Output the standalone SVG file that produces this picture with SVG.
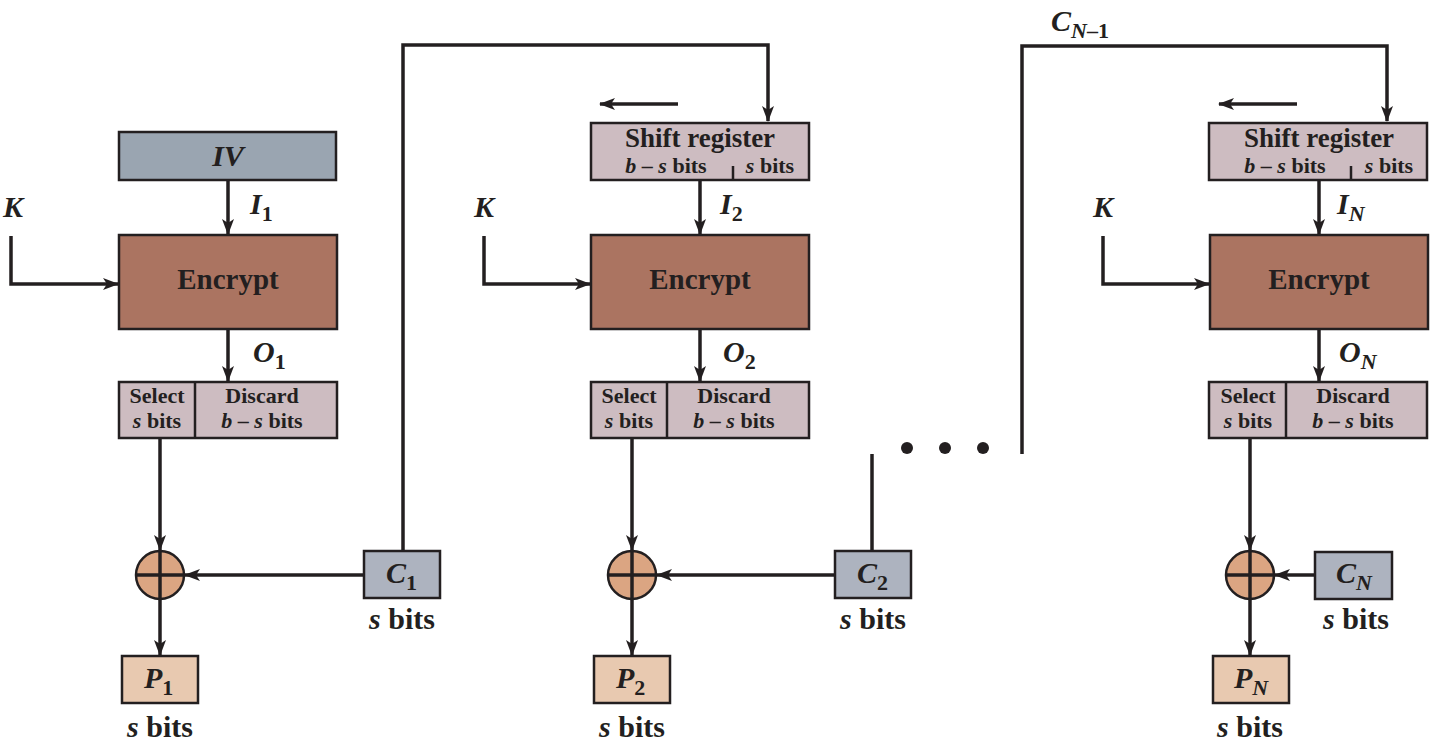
<svg xmlns="http://www.w3.org/2000/svg" width="1438" height="745" viewBox="0 0 1438 745">
<style>
.bx{stroke:#231f20;stroke-width:2.5}
.iv{fill:#9aa5b1}
.en{fill:#ab7461}
.sr{fill:#cdbcc1}
.cb{fill:#adb3bf}
.pb{fill:#e8c9b0}
.xr{fill:#dba582;stroke:#231f20;stroke-width:2.5}
.xl{stroke:#231f20;stroke-width:3.5}
.ln{fill:none;stroke:#231f20;stroke-width:3.5}
.t{font-family:"Liberation Serif","Times New Roman",serif;font-weight:bold;fill:#231f20}
.i{font-style:italic}
.m{text-anchor:middle}
.sd{font-size:22px}
</style>
<defs>
<marker id="ah" viewBox="0 0 16 12" refX="15" refY="6" markerWidth="16" markerHeight="12" orient="auto" markerUnits="userSpaceOnUse">
<path d="M0,0 L16,6 L0,12 L4,6 z" fill="#231f20"/>
</marker>
</defs>

<g id="connectors">
<!-- column 1 -->
<line class="ln" x1="228" y1="181" x2="228" y2="234" marker-end="url(#ah)"/>
<polyline class="ln" points="11,236 11,284 118,284" marker-end="url(#ah)"/>
<line class="ln" x1="228" y1="330" x2="228" y2="381" marker-end="url(#ah)"/>
<line class="ln" x1="160" y1="439" x2="160" y2="550" marker-end="url(#ah)"/>
<line class="ln" x1="160" y1="599" x2="160" y2="655" marker-end="url(#ah)"/>
<line class="ln" x1="364" y1="575" x2="185" y2="575" marker-end="url(#ah)"/>
<polyline class="ln" points="403,551 403,45 768,45 768,121" marker-end="url(#ah)"/>
<!-- column 2 -->
<line class="ln" x1="678" y1="104" x2="600" y2="104" marker-end="url(#ah)"/>
<line class="ln" x1="700" y1="181" x2="700" y2="234" marker-end="url(#ah)"/>
<polyline class="ln" points="484,236 484,284 590,284" marker-end="url(#ah)"/>
<line class="ln" x1="700" y1="330" x2="700" y2="381" marker-end="url(#ah)"/>
<line class="ln" x1="632" y1="439" x2="632" y2="550" marker-end="url(#ah)"/>
<line class="ln" x1="632" y1="599" x2="632" y2="655" marker-end="url(#ah)"/>
<line class="ln" x1="835" y1="575" x2="657" y2="575" marker-end="url(#ah)"/>
<line class="ln" x1="872" y1="551" x2="872" y2="454"/>
<polyline class="ln" points="1022,454 1022,46 1387,46 1387,121" marker-end="url(#ah)"/>
<!-- column 3 -->
<line class="ln" x1="1297" y1="104" x2="1219" y2="104" marker-end="url(#ah)"/>
<line class="ln" x1="1319" y1="181" x2="1319" y2="234" marker-end="url(#ah)"/>
<polyline class="ln" points="1103,236 1103,284 1209,284" marker-end="url(#ah)"/>
<line class="ln" x1="1319" y1="330" x2="1319" y2="381" marker-end="url(#ah)"/>
<line class="ln" x1="1250" y1="439" x2="1250" y2="550" marker-end="url(#ah)"/>
<line class="ln" x1="1250" y1="599" x2="1250" y2="655" marker-end="url(#ah)"/>
<line class="ln" x1="1315" y1="575" x2="1275" y2="575" marker-end="url(#ah)"/>
</g>

<g id="dots" fill="#231f20">
<circle cx="907" cy="448" r="6"/>
<circle cx="945" cy="448" r="6"/>
<circle cx="983" cy="448" r="6"/>
</g>

<!-- Column 1 -->
<g id="iv">
<rect class="bx iv" x="119" y="132" width="217" height="48"/>
<text class="t i m" x="228" y="166" font-size="30">IV</text>
</g>
<g id="k1"><text class="t i" x="3" y="217" font-size="30">K</text></g>
<g id="i1lbl"><text class="t" x="250" y="214" font-size="30"><tspan class="i">I</tspan><tspan font-size="22" dy="7">1</tspan></text></g>
<g id="encrypt1">
<rect class="bx en" x="119" y="235" width="218" height="94"/>
<text class="t m" x="228" y="289" font-size="29">Encrypt</text>
</g>
<g id="o1lbl"><text class="t" x="253" y="362" font-size="30"><tspan class="i">O</tspan><tspan font-size="22" dy="7">1</tspan></text></g>
<g id="select1">
<rect class="bx sr" x="119" y="382" width="218" height="56"/>
<line class="bx" x1="195" y1="382" x2="195" y2="438"/>
<text class="t m sd" x="157" y="403">Select</text>
<text class="t m sd" x="157" y="428"><tspan class="i">s</tspan> bits</text>
<text class="t m sd" x="262" y="403">Discard</text>
<text class="t m sd" x="262" y="428"><tspan class="i">b</tspan> – <tspan class="i">s</tspan> bits</text>
</g>
<g id="xor1">
<circle class="xr" cx="160" cy="575" r="24"/>
<line class="xl" x1="136" y1="575" x2="184" y2="575"/>
<line class="xl" x1="160" y1="551" x2="160" y2="599"/>
</g>
<g id="c1">
<rect class="bx cb" x="364" y="551" width="76" height="47"/>
<text class="t" x="386" y="583" font-size="30"><tspan class="i">C</tspan><tspan font-size="22" dy="7">1</tspan></text>
<text class="t m" x="402" y="629" font-size="30"><tspan class="i">s</tspan> bits</text>
</g>
<g id="p1">
<rect class="bx pb" x="122" y="656" width="76" height="47"/>
<text class="t" x="144" y="688" font-size="30"><tspan class="i">P</tspan><tspan font-size="22" dy="7">1</tspan></text>
<text class="t m" x="160" y="737" font-size="30"><tspan class="i">s</tspan> bits</text>
</g>

<!-- Column 2 -->
<g id="shift2">
<rect class="bx sr" x="591" y="123" width="218" height="57"/>
<line class="bx" x1="733" y1="166" x2="733" y2="180"/>
<text class="t m" x="700" y="147" font-size="27">Shift register</text>
<text class="t m sd" x="666" y="173"><tspan class="i">b</tspan> – <tspan class="i">s</tspan> bits</text>
<text class="t m sd" x="770" y="173"><tspan class="i">s</tspan> bits</text>
</g>
<g id="k2"><text class="t i" x="474" y="217" font-size="30">K</text></g>
<g id="i2lbl"><text class="t" x="720" y="214" font-size="30"><tspan class="i">I</tspan><tspan font-size="22" dy="7">2</tspan></text></g>
<g id="encrypt2">
<rect class="bx en" x="591" y="235" width="218" height="94"/>
<text class="t m" x="700" y="289" font-size="29">Encrypt</text>
</g>
<g id="o2lbl"><text class="t" x="723" y="362" font-size="30"><tspan class="i">O</tspan><tspan font-size="22" dy="7">2</tspan></text></g>
<g id="select2">
<rect class="bx sr" x="591" y="382" width="218" height="56"/>
<line class="bx" x1="667" y1="382" x2="667" y2="438"/>
<text class="t m sd" x="629" y="403">Select</text>
<text class="t m sd" x="629" y="428"><tspan class="i">s</tspan> bits</text>
<text class="t m sd" x="734" y="403">Discard</text>
<text class="t m sd" x="734" y="428"><tspan class="i">b</tspan> – <tspan class="i">s</tspan> bits</text>
</g>
<g id="xor2">
<circle class="xr" cx="632" cy="575" r="24"/>
<line class="xl" x1="608" y1="575" x2="656" y2="575"/>
<line class="xl" x1="632" y1="551" x2="632" y2="599"/>
</g>
<g id="c2">
<rect class="bx cb" x="835" y="551" width="76" height="47"/>
<text class="t" x="857" y="583" font-size="30"><tspan class="i">C</tspan><tspan font-size="22" dy="7">2</tspan></text>
<text class="t m" x="873" y="629" font-size="30"><tspan class="i">s</tspan> bits</text>
</g>
<g id="p2">
<rect class="bx pb" x="594" y="656" width="76" height="47"/>
<text class="t" x="616" y="688" font-size="30"><tspan class="i">P</tspan><tspan font-size="22" dy="7">2</tspan></text>
<text class="t m" x="632" y="737" font-size="30"><tspan class="i">s</tspan> bits</text>
</g>

<!-- Column N -->
<g id="cn1lbl"><text class="t" x="1051" y="31" font-size="30"><tspan class="i">C</tspan><tspan font-size="22" dy="7"><tspan class="i">N</tspan>–1</tspan></text></g>
<g id="shiftN">
<rect class="bx sr" x="1209" y="123" width="218" height="57"/>
<line class="bx" x1="1351" y1="166" x2="1351" y2="180"/>
<text class="t m" x="1319" y="147" font-size="27">Shift register</text>
<text class="t m sd" x="1285" y="173"><tspan class="i">b</tspan> – <tspan class="i">s</tspan> bits</text>
<text class="t m sd" x="1389" y="173"><tspan class="i">s</tspan> bits</text>
</g>
<g id="kN"><text class="t i" x="1093" y="217" font-size="30">K</text></g>
<g id="iNlbl"><text class="t" x="1337" y="214" font-size="30"><tspan class="i">I</tspan><tspan class="i" font-size="22" dy="7">N</tspan></text></g>
<g id="encryptN">
<rect class="bx en" x="1210" y="235" width="218" height="94"/>
<text class="t m" x="1319" y="289" font-size="29">Encrypt</text>
</g>
<g id="oNlbl"><text class="t" x="1339" y="362" font-size="30"><tspan class="i">O</tspan><tspan class="i" font-size="22" dy="7">N</tspan></text></g>
<g id="selectN">
<rect class="bx sr" x="1209" y="382" width="218" height="56"/>
<line class="bx" x1="1286" y1="382" x2="1286" y2="438"/>
<text class="t m sd" x="1248" y="403">Select</text>
<text class="t m sd" x="1248" y="428"><tspan class="i">s</tspan> bits</text>
<text class="t m sd" x="1353" y="403">Discard</text>
<text class="t m sd" x="1353" y="428"><tspan class="i">b</tspan> – <tspan class="i">s</tspan> bits</text>
</g>
<g id="xorN">
<circle class="xr" cx="1250" cy="575" r="24"/>
<line class="xl" x1="1226" y1="575" x2="1274" y2="575"/>
<line class="xl" x1="1250" y1="551" x2="1250" y2="599"/>
</g>
<g id="cN">
<rect class="bx cb" x="1315" y="552" width="77" height="47"/>
<text class="t" x="1336" y="583" font-size="30"><tspan class="i">C</tspan><tspan class="i" font-size="22" dy="7">N</tspan></text>
<text class="t m" x="1356" y="629" font-size="30"><tspan class="i">s</tspan> bits</text>
</g>
<g id="pN">
<rect class="bx pb" x="1213" y="656" width="76" height="47"/>
<text class="t" x="1234" y="688" font-size="30"><tspan class="i">P</tspan><tspan class="i" font-size="22" dy="7">N</tspan></text>
<text class="t m" x="1250" y="737" font-size="30"><tspan class="i">s</tspan> bits</text>
</g>
</svg>
